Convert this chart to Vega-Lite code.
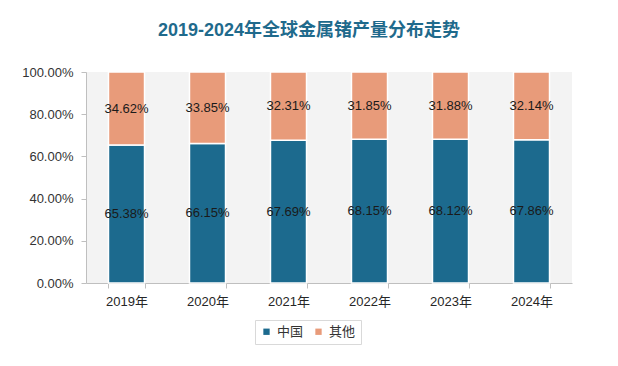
{
  "$schema": "https://vega.github.io/schema/vega-lite/v6.json",
  "width": 486,
  "height": 211,
  "autosize": {"type": "none"},
  "padding": {"left": 86, "top": 72, "right": 46, "bottom": 83},
  "background": "white",
  "title": {
    "text": "2019-2024年全球金属锗产量分布走势",
    "font": "Liberation Sans, Noto Sans CJK SC",
    "fontSize": 18,
    "fontWeight": "bold",
    "color": "#1f6a8c",
    "anchor": "middle",
    "dx": -20,
    "offset": 26
  },
  "config": {
    "font": "Liberation Sans, Noto Sans CJK SC",
    "view": {"stroke": null, "fill": "#f3f3f3"}
  },
  "data": {
    "values": [
      {"year": "2019年", "region": "中国", "value": 0.6538},
      {"year": "2019年", "region": "其他", "value": 0.3462},
      {"year": "2020年", "region": "中国", "value": 0.6615},
      {"year": "2020年", "region": "其他", "value": 0.3385},
      {"year": "2021年", "region": "中国", "value": 0.6769},
      {"year": "2021年", "region": "其他", "value": 0.3231},
      {"year": "2022年", "region": "中国", "value": 0.6815},
      {"year": "2022年", "region": "其他", "value": 0.3185},
      {"year": "2023年", "region": "中国", "value": 0.6812},
      {"year": "2023年", "region": "其他", "value": 0.3188},
      {"year": "2024年", "region": "中国", "value": 0.6786},
      {"year": "2024年", "region": "其他", "value": 0.3214}
    ]
  },
  "transform": [
    {"calculate": "datum.region === '中国' ? 0 : 1", "as": "ord"},
    {"stack": "value", "groupby": ["year"], "sort": [{"field": "ord", "order": "ascending"}], "as": ["lo", "hi"]},
    {"calculate": "(datum.lo + datum.hi) / 2", "as": "mid"}
  ],
  "encoding": {
    "x": {
      "field": "year",
      "type": "nominal",
      "sort": null,
      "scale": {"paddingInner": 0.555, "paddingOuter": 0.2775},
      "axis": {
        "title": null,
        "labelAngle": 0,
        "labelFontSize": 13,
        "labelColor": "#262626",
        "labelPadding": 7,
        "domainColor": "#bfbfbf",
        "tickColor": "#bfbfbf",
        "tickBand": "extent",
        "tickSize": 5
      }
    }
  },
  "layer": [
    {
      "mark": {"type": "bar", "stroke": "white", "strokeWidth": 1.5},
      "encoding": {
        "y": {
          "field": "lo",
          "type": "quantitative",
          "scale": {"domain": [0, 1]},
          "axis": {
            "title": null,
            "format": ".2%",
            "values": [0, 0.2, 0.4, 0.6, 0.8, 1],
            "grid": false,
            "labelFontSize": 13,
            "labelColor": "#333333",
            "labelPadding": 8,
            "domainColor": "#bfbfbf",
            "tickColor": "#bfbfbf",
            "tickSize": 5
          }
        },
        "y2": {"field": "hi"},
        "color": {
          "field": "region",
          "type": "nominal",
          "scale": {"domain": ["中国", "其他"], "range": ["#1c6a8e", "#e89b7a"]},
          "legend": {
            "title": null,
            "orient": "none",
            "direction": "horizontal",
            "legendX": 169,
            "legendY": 248,
            "symbolType": "square",
            "symbolSize": 40,
            "symbolStrokeWidth": 0,
            "labelFontSize": 13,
            "labelColor": "#333333",
            "strokeColor": "#d9d9d9",
            "fillColor": "white",
            "padding": 5,
            "columnPadding": 8
          }
        }
      }
    },
    {
      "mark": {"type": "text", "fontSize": 13, "color": "#1a1a1a"},
      "encoding": {
        "y": {"field": "mid", "type": "quantitative"},
        "text": {"field": "value", "type": "quantitative", "format": ".2%"}
      }
    }
  ]
}
